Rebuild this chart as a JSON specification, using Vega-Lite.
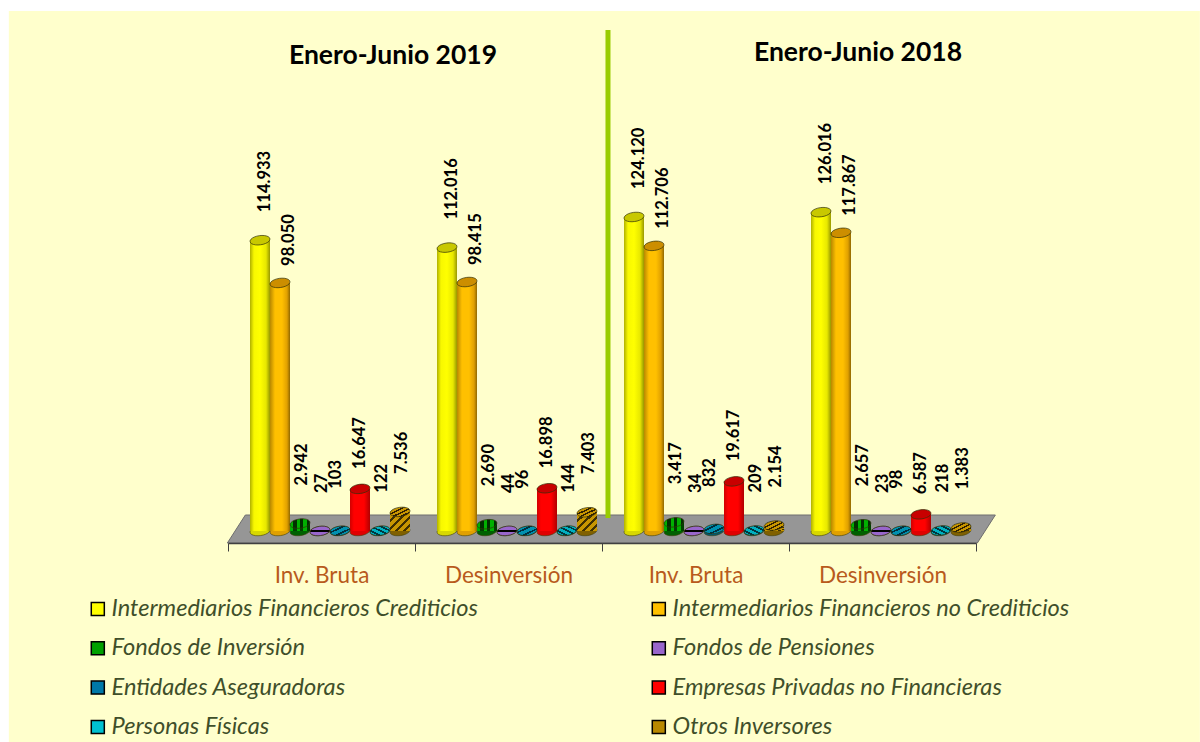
{
"$schema":"https://vega.github.io/schema/vega-lite/v6.json",
"autosize":"none",
"padding":{"left":9,"top":11,"right":0,"bottom":199},
"width":1191,"height":532,
"background":"#ffffff",
"config":{"locale":{"number":{"decimal":",","thousands":".","grouping":[3],"currency":["","€"]}},"view":{"stroke":null}},
"data":{"values":[
{"grupo":"2019 Inv. Bruta","serie":"Intermediarios Financieros Crediticios","valor":114933},
{"grupo":"2019 Inv. Bruta","serie":"Intermediarios Financieros no Crediticios","valor":98050},
{"grupo":"2019 Inv. Bruta","serie":"Fondos de Inversión","valor":2942},
{"grupo":"2019 Inv. Bruta","serie":"Fondos de Pensiones","valor":27},
{"grupo":"2019 Inv. Bruta","serie":"Entidades Aseguradoras","valor":103},
{"grupo":"2019 Inv. Bruta","serie":"Empresas Privadas no Financieras","valor":16647},
{"grupo":"2019 Inv. Bruta","serie":"Personas Físicas","valor":122},
{"grupo":"2019 Inv. Bruta","serie":"Otros Inversores","valor":7536},
{"grupo":"2019 Desinversión","serie":"Intermediarios Financieros Crediticios","valor":112016},
{"grupo":"2019 Desinversión","serie":"Intermediarios Financieros no Crediticios","valor":98415},
{"grupo":"2019 Desinversión","serie":"Fondos de Inversión","valor":2690},
{"grupo":"2019 Desinversión","serie":"Fondos de Pensiones","valor":44},
{"grupo":"2019 Desinversión","serie":"Entidades Aseguradoras","valor":96},
{"grupo":"2019 Desinversión","serie":"Empresas Privadas no Financieras","valor":16898},
{"grupo":"2019 Desinversión","serie":"Personas Físicas","valor":144},
{"grupo":"2019 Desinversión","serie":"Otros Inversores","valor":7403},
{"grupo":"2018 Inv. Bruta","serie":"Intermediarios Financieros Crediticios","valor":124120},
{"grupo":"2018 Inv. Bruta","serie":"Intermediarios Financieros no Crediticios","valor":112706},
{"grupo":"2018 Inv. Bruta","serie":"Fondos de Inversión","valor":3417},
{"grupo":"2018 Inv. Bruta","serie":"Fondos de Pensiones","valor":34},
{"grupo":"2018 Inv. Bruta","serie":"Entidades Aseguradoras","valor":832},
{"grupo":"2018 Inv. Bruta","serie":"Empresas Privadas no Financieras","valor":19617},
{"grupo":"2018 Inv. Bruta","serie":"Personas Físicas","valor":209},
{"grupo":"2018 Inv. Bruta","serie":"Otros Inversores","valor":2154},
{"grupo":"2018 Desinversión","serie":"Intermediarios Financieros Crediticios","valor":126016},
{"grupo":"2018 Desinversión","serie":"Intermediarios Financieros no Crediticios","valor":117867},
{"grupo":"2018 Desinversión","serie":"Fondos de Inversión","valor":2657},
{"grupo":"2018 Desinversión","serie":"Fondos de Pensiones","valor":23},
{"grupo":"2018 Desinversión","serie":"Entidades Aseguradoras","valor":98},
{"grupo":"2018 Desinversión","serie":"Empresas Privadas no Financieras","valor":6587},
{"grupo":"2018 Desinversión","serie":"Personas Físicas","valor":218},
{"grupo":"2018 Desinversión","serie":"Otros Inversores","valor":1383}
]},
"layer":[
{"data":{"values":[{"elemento":"fondo"}]},
 "mark":{"type":"point","filled":true,"opacity":1,"size":4,"shape":"M-602.5,-518 L588.5,-518 L588.5,213 L-602.5,213 Z","fill":"#FFFFCC","strokeWidth":0},
 "encoding":{"x":{"datum":"2018 Inv. Bruta","type":"nominal","bandPosition":0.05,"title":null,"scale":{"domain":["2019 Inv. Bruta","2019 Desinversión","2018 Inv. Bruta","2018 Desinversión"],"range":[219,967],"paddingInner":0,"paddingOuter":0},
 "axis":{"zindex":1,"tickBand":"extent","labelExpr":"slice(datum.label,5)","labelAngle":0,"labelFont":"Lato","labelFontSize":22.5,"labelColor":"#B85A1C","labelPadding":13,"tickSize":8,"tickColor":"#404040","domainColor":"#404040","tickWidth":1,"domainWidth":1.5,"title":null,"grid":false}},
 "y":{"datum":790,"type":"quantitative","axis":null,"scale":{"domain":[-4743,205534],"nice":false,"zero":false}}}},
{"data":{"values":[{"elemento":"suelo"}]},
 "mark":{"type":"point","filled":true,"opacity":1,"size":4,"shape":"M-384,14 L-366,-14 L384,-14 L366,14 Z","fill":"#969696","stroke":"#6e6e6e","strokeWidth":1},
 "encoding":{"x":{"datum":"2018 Inv. Bruta","type":"nominal","bandPosition":0.05,"title":null},"y":{"datum":790,"type":"quantitative","axis":null}}},
{"data":{"values":[{"elemento":"separador"}]},
 "mark":{"type":"rule","color":"#99CC00","strokeWidth":5},
 "encoding":{"x":{"datum":"2018 Inv. Bruta","type":"nominal","bandPosition":0.032,"title":null},"y":{"datum":198024,"type":"quantitative","axis":null},"y2":{"datum":5138}}},
{"encoding":{
"x":{"field":"grupo","type":"nominal","sort":null,"title":null},
"xOffset":{"field":"serie","type":"nominal","sort":null,"scale":{"domain":["Intermediarios Financieros Crediticios","Intermediarios Financieros no Crediticios","Fondos de Inversión","Fondos de Pensiones","Entidades Aseguradoras","Empresas Privadas no Financieras","Personas Físicas","Otros Inversores"],"range":[22,182],"paddingInner":0,"paddingOuter":0}},
"y":{"field":"valor","type":"quantitative","title":null,"axis":null}
},
"layer":[
{"mark":{"type":"bar"},
 "encoding":{"color":{"field":"serie","type":"nominal","title":null,
  "scale":{"domain":["Intermediarios Financieros Crediticios","Intermediarios Financieros no Crediticios","Fondos de Inversión","Fondos de Pensiones","Entidades Aseguradoras","Empresas Privadas no Financieras","Personas Físicas","Otros Inversores"],"range":["#FFFF00","#FFC000","#00A000","#9966CC","#0078A8","#FF0000","#00C0D0","#B88800"]},
  "legend":{"orient":"none","legendX":77,"legendY":586,"direction":"horizontal","columns":2,"symbolType":"square","symbolSize":170,"symbolStrokeColor":"#000000","symbolStrokeWidth":1.5,"symbolOpacity":1,"labelFont":"Lato","labelFontStyle":"italic","labelFontSize":23.6,"labelColor":"#3F4F2A","labelLimit":600,"labelOffset":2,"rowPadding":14.4,"columnPadding":169,"title":null}}}},
{"mark":{"type":"point","filled":true,"opacity":1,"size":400,"shape":"M-0.99,0.139 A1,0.45 -8 1 1 0.99,-0.139 A1,0.45 -8 1 1 -0.99,0.139 Z","stroke":"#40400a","strokeWidth":0.6},
 "encoding":{"y":{"datum":0,"type":"quantitative","axis":null},
 "fill":{"condition":[
  {"test":"datum.serie==='Intermediarios Financieros Crediticios'","value":"#D8D800"},
  {"test":"datum.serie==='Intermediarios Financieros no Crediticios'","value":"#E0A000"},
  {"test":"datum.serie==='Fondos de Inversión'","value":"#006000"},
  {"test":"datum.serie==='Fondos de Pensiones'","value":"#705090"},
  {"test":"datum.serie==='Entidades Aseguradoras'","value":"#005870"},
  {"test":"datum.serie==='Empresas Privadas no Financieras'","value":"#E00000"},
  {"test":"datum.serie==='Personas Físicas'","value":"#006870"}
 ],"value":"#806000"}}},
{"mark":{"type":"bar"},
 "encoding":{"fill":{"condition":[
  {"test":"datum.serie==='Intermediarios Financieros Crediticios'","value":{"gradient":"linear","x1":0,"y1":0,"x2":1,"y2":0,"stops":[{"offset":0,"color":"#B0B000"},{"offset":0.2,"color":"#F8F800"},{"offset":0.5,"color":"#FFFF00"},{"offset":0.8,"color":"#E8E800"},{"offset":1,"color":"#989800"}]}},
  {"test":"datum.serie==='Intermediarios Financieros no Crediticios'","value":{"gradient":"linear","x1":0,"y1":0,"x2":1,"y2":0,"stops":[{"offset":0,"color":"#B88800"},{"offset":0.25,"color":"#FFC000"},{"offset":0.6,"color":"#FFC000"},{"offset":0.85,"color":"#E0A000"},{"offset":1,"color":"#906800"}]}},
  {"test":"datum.serie==='Fondos de Inversión'","value":{"gradient":"linear","x1":0,"y1":0,"x2":1,"y2":0,"stops":[{"offset":0,"color":"#00B000"},{"offset":0.17,"color":"#00B000"},{"offset":0.17,"color":"#004000"},{"offset":0.33,"color":"#004000"},{"offset":0.33,"color":"#00B000"},{"offset":0.5,"color":"#00B000"},{"offset":0.5,"color":"#004000"},{"offset":0.67,"color":"#004000"},{"offset":0.67,"color":"#00B000"},{"offset":0.83,"color":"#00B000"},{"offset":0.83,"color":"#004000"},{"offset":1,"color":"#004000"}]}},
  {"test":"datum.serie==='Empresas Privadas no Financieras'","value":{"gradient":"linear","x1":0,"y1":0,"x2":1,"y2":0,"stops":[{"offset":0,"color":"#D00000"},{"offset":0.2,"color":"#FF0000"},{"offset":0.7,"color":"#FF0000"},{"offset":1,"color":"#B00000"}]}},
  {"test":"datum.serie==='Otros Inversores'","value":{"gradient":"linear","x1":0,"y1":0,"x2":1,"y2":1,"stops":[{"offset":0,"color":"#C89600"},{"offset":0.2,"color":"#C89600"},{"offset":0.2,"color":"#403000"},{"offset":0.28,"color":"#403000"},{"offset":0.28,"color":"#C89600"},{"offset":0.4,"color":"#C89600"},{"offset":0.4,"color":"#403000"},{"offset":0.48,"color":"#403000"},{"offset":0.48,"color":"#C89600"},{"offset":0.6,"color":"#C89600"},{"offset":0.6,"color":"#403000"},{"offset":0.68,"color":"#403000"},{"offset":0.68,"color":"#C89600"},{"offset":0.8,"color":"#C89600"},{"offset":0.8,"color":"#403000"},{"offset":0.88,"color":"#403000"},{"offset":0.88,"color":"#C89600"},{"offset":1,"color":"#C89600"}]}},
  {"test":"datum.serie==='Fondos de Pensiones'","value":"#9966CC"},
  {"test":"datum.serie==='Entidades Aseguradoras'","value":"#0090B0"}
 ],"value":"#00A8B8"}}},
{"mark":{"type":"point","filled":true,"opacity":1,"size":400,"shape":"M-0.99,0.139 A1,0.45 -8 1 1 0.99,-0.139 A1,0.45 -8 1 1 -0.99,0.139 Z","stroke":"#30300a","strokeWidth":0.7},
 "encoding":{"fill":{"condition":[
  {"test":"datum.serie==='Intermediarios Financieros Crediticios'","value":"#C8C800"},
  {"test":"datum.serie==='Intermediarios Financieros no Crediticios'","value":"#CC8E00"},
  {"test":"datum.serie==='Fondos de Inversión'","value":{"gradient":"linear","x1":0,"y1":0,"x2":1,"y2":0,"stops":[{"offset":0,"color":"#00B000"},{"offset":0.17,"color":"#00B000"},{"offset":0.17,"color":"#003000"},{"offset":0.33,"color":"#003000"},{"offset":0.33,"color":"#00B000"},{"offset":0.5,"color":"#00B000"},{"offset":0.5,"color":"#003000"},{"offset":0.67,"color":"#003000"},{"offset":0.67,"color":"#00B000"},{"offset":0.83,"color":"#00B000"},{"offset":0.83,"color":"#003000"},{"offset":1,"color":"#003000"}]}},
  {"test":"datum.serie==='Fondos de Pensiones'","value":{"gradient":"linear","x1":0,"y1":0,"x2":0,"y2":1,"stops":[{"offset":0,"color":"#9966CC"},{"offset":0.4,"color":"#9966CC"},{"offset":0.4,"color":"#000000"},{"offset":0.6,"color":"#000000"},{"offset":0.6,"color":"#9966CC"},{"offset":1,"color":"#9966CC"}]}},
  {"test":"datum.serie==='Entidades Aseguradoras'","value":{"gradient":"linear","x1":0,"y1":0,"x2":1,"y2":1,"stops":[{"offset":0,"color":"#0090B0"},{"offset":0.3,"color":"#0090B0"},{"offset":0.3,"color":"#003040"},{"offset":0.4,"color":"#003040"},{"offset":0.4,"color":"#0090B0"},{"offset":0.6,"color":"#0090B0"},{"offset":0.6,"color":"#003040"},{"offset":0.7,"color":"#003040"},{"offset":0.7,"color":"#0090B0"},{"offset":1,"color":"#0090B0"}]}},
  {"test":"datum.serie==='Empresas Privadas no Financieras'","value":"#C80000"},
  {"test":"datum.serie==='Personas Físicas'","value":{"gradient":"linear","x1":0,"y1":1,"x2":1,"y2":0,"stops":[{"offset":0,"color":"#00B0C0"},{"offset":0.2,"color":"#00B0C0"},{"offset":0.2,"color":"#003840"},{"offset":0.3,"color":"#003840"},{"offset":0.3,"color":"#00B0C0"},{"offset":0.45,"color":"#00B0C0"},{"offset":0.45,"color":"#003840"},{"offset":0.55,"color":"#003840"},{"offset":0.55,"color":"#00B0C0"},{"offset":0.7,"color":"#00B0C0"},{"offset":0.7,"color":"#003840"},{"offset":0.8,"color":"#003840"},{"offset":0.8,"color":"#00B0C0"},{"offset":1,"color":"#00B0C0"}]}}
 ],"value":{"gradient":"linear","x1":0,"y1":0,"x2":1,"y2":1,"stops":[{"offset":0,"color":"#C89600"},{"offset":0.12,"color":"#C89600"},{"offset":0.12,"color":"#302000"},{"offset":0.2,"color":"#302000"},{"offset":0.2,"color":"#C89600"},{"offset":0.32,"color":"#C89600"},{"offset":0.32,"color":"#302000"},{"offset":0.4,"color":"#302000"},{"offset":0.4,"color":"#C89600"},{"offset":0.52,"color":"#C89600"},{"offset":0.52,"color":"#302000"},{"offset":0.6,"color":"#302000"},{"offset":0.6,"color":"#C89600"},{"offset":0.72,"color":"#C89600"},{"offset":0.72,"color":"#302000"},{"offset":0.8,"color":"#302000"},{"offset":0.8,"color":"#C89600"},{"offset":1,"color":"#C89600"}]}}}},
{"transform":[{"filter":"datum.serie==='Intermediarios Financieros Crediticios'"}],
 "mark":{"type":"text","font":"Lato","fontWeight":"bold","fontSize":16.5,"angle":270,"align":"left","baseline":"middle","dx":28,"dy":5,"color":"#000000"},
 "encoding":{"text":{"field":"valor","type":"quantitative","format":","}}},
{"transform":[{"filter":"datum.serie==='Intermediarios Financieros no Crediticios'"}],
 "mark":{"type":"text","font":"Lato","fontWeight":"bold","fontSize":16.5,"angle":270,"align":"left","baseline":"middle","dx":17,"dy":9,"color":"#000000"},
 "encoding":{"text":{"field":"valor","type":"quantitative","format":","}}},
{"transform":[{"filter":"datum.serie==='Empresas Privadas no Financieras'"}],
 "mark":{"type":"text","font":"Lato","fontWeight":"bold","fontSize":16.5,"angle":270,"align":"left","baseline":"middle","dx":20,"dy":0,"color":"#000000"},
 "encoding":{"text":{"field":"valor","type":"quantitative","format":","}}},
{"transform":[{"filter":"datum.serie==='Entidades Aseguradoras'"}],
 "mark":{"type":"text","font":"Lato","fontWeight":"bold","fontSize":16.5,"angle":270,"align":"left","baseline":"middle","dx":42,"dy":-4,"color":"#000000"},
 "encoding":{"text":{"field":"valor","type":"quantitative","format":","}}},
{"transform":[{"filter":"datum.serie==='Fondos de Inversión' || datum.serie==='Fondos de Pensiones' || datum.serie==='Personas Físicas' || datum.serie==='Otros Inversores'"}],
 "mark":{"type":"text","font":"Lato","fontWeight":"bold","fontSize":16.5,"angle":270,"align":"left","baseline":"middle","dx":38,"dy":2,"color":"#000000"},
 "encoding":{"text":{"field":"valor","type":"quantitative","format":","}}}
]},
{"data":{"values":[{"titulo":"Enero-Junio 2019"}]},
 "mark":{"type":"text","font":"Lato","fontWeight":"bold","fontSize":26.5,"align":"center","baseline":"middle","dx":-22,"color":"#000000"},
 "encoding":{"x":{"datum":"2019 Desinversión","type":"nominal","bandPosition":0,"title":null},"y":{"datum":187747,"type":"quantitative","axis":null},"text":{"field":"titulo"}}},
{"data":{"values":[{"titulo":"Enero-Junio 2018"}]},
 "mark":{"type":"text","font":"Lato","fontWeight":"bold","fontSize":26.5,"align":"center","baseline":"middle","dx":69,"color":"#000000"},
 "encoding":{"x":{"datum":"2018 Desinversión","type":"nominal","bandPosition":0,"title":null},"y":{"datum":188933,"type":"quantitative","axis":null},"text":{"field":"titulo"}}}
]
}
